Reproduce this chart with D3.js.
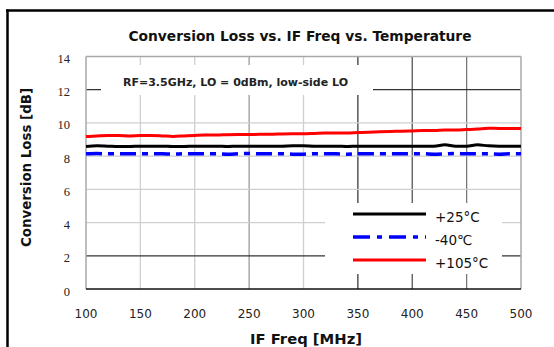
<!DOCTYPE html>
<html><head><meta charset="utf-8">
<script src="https://cdn.jsdelivr.net/npm/d3@7"></script>
<style>body{margin:0;background:#fff}svg{display:block}</style>
</head><body><svg id="c" width="554" height="347"></svg>
<script>
const freqs = [100,110,120,130,140,150,160,170,180,190,200,210,220,230,240,250,260,270,280,290,300,310,320,330,340,350,360,370,380,390,400,410,420,430,440,450,460,470,480,490,500];
const loss25 = [8.58,8.62,8.6,8.58,8.58,8.6,8.6,8.6,8.58,8.58,8.6,8.6,8.6,8.58,8.6,8.6,8.6,8.6,8.6,8.62,8.62,8.6,8.6,8.6,8.58,8.6,8.6,8.6,8.6,8.6,8.6,8.6,8.6,8.68,8.6,8.6,8.68,8.62,8.6,8.6,8.6];
const lossM40 = [8.14,8.16,8.14,8.14,8.14,8.14,8.14,8.14,8.12,8.14,8.14,8.14,8.14,8.12,8.14,8.16,8.14,8.14,8.14,8.12,8.12,8.14,8.14,8.14,8.12,8.14,8.14,8.14,8.14,8.14,8.14,8.14,8.12,8.14,8.16,8.14,8.14,8.14,8.12,8.14,8.14];
const loss105 = [9.18,9.22,9.24,9.24,9.22,9.24,9.24,9.22,9.19,9.22,9.25,9.27,9.27,9.29,9.3,9.3,9.32,9.32,9.34,9.35,9.35,9.37,9.39,9.4,9.4,9.42,9.44,9.47,9.49,9.5,9.52,9.54,9.54,9.57,9.57,9.6,9.63,9.68,9.67,9.67,9.67];
const xTicks = [100,150,200,250,300,350,400,450,500];
const yTicks = [0,2,4,6,8,10,12,14];
const seriesNames = ["+25°C","-40℃","+105°C"];
const titleText = "Conversion Loss vs. IF Freq vs. Temperature";
const xLabel = "IF Freq [MHz]";
const yLabel = "Conversion Loss [dB]";
const noteText = "RF=3.5GHz,  LO  =  0dBm,  low-side LO";

const svg = d3.select("#c");
const L=86,R=521,T=56.5,B=289;
const x = d3.scaleLinear().domain([100,500]).range([L,R]);
const y = d3.scaleLinear().domain([0,14]).range([B,T]);

// outer frame
svg.append("line").attr("x1",7.5).attr("x2",7.5).attr("y1",9.5).attr("y2",347).attr("stroke","#000").attr("stroke-width",2.5);
svg.append("line").attr("x1",6).attr("x2",554).attr("y1",10.5).attr("y2",10.5).attr("stroke","#000").attr("stroke-width",2.5);

svg.append("rect").attr("x",L).attr("y",T).attr("width",R-L).attr("height",B-T).attr("fill","#fff");

const vCol = {150:"#cfcfcf",200:"#cfcfcf",250:"#9a9a9a",300:"#cfcfcf",350:"#3a3a3a",400:"#555",450:"#777"};
const hCol = {2:"#333",4:"#cfcfcf",6:"#cfcfcf",8:"#cfcfcf",10:"#cfcfcf",12:"#333"};
const g = svg.append("g");
g.selectAll(".vg").data(xTicks.filter(d=>d>100&&d<500)).join("line")
 .attr("x1",d=>x(d)).attr("x2",d=>x(d)).attr("y1",T).attr("y2",B)
 .attr("stroke",d=>vCol[d]).attr("stroke-width",1.3);
g.selectAll(".hg").data(yTicks.filter(d=>d>0&&d<14)).join("line")
 .attr("x1",L).attr("x2",R).attr("y1",d=>y(d)).attr("y2",d=>y(d))
 .attr("stroke",d=>hCol[d]).attr("stroke-width",1.3);
// frame of plot
svg.append("line").attr("x1",L).attr("x2",R).attr("y1",T).attr("y2",T).attr("stroke","#a8a8a8").attr("stroke-width",1.5);
svg.append("line").attr("x1",L).attr("x2",L).attr("y1",T).attr("y2",B).attr("stroke","#a8a8a8").attr("stroke-width",1.5);
svg.append("line").attr("x1",R).attr("x2",R).attr("y1",T).attr("y2",B).attr("stroke","#a8a8a8").attr("stroke-width",1.5);
svg.append("line").attr("x1",L).attr("x2",R).attr("y1",B).attr("y2",B).attr("stroke","#111").attr("stroke-width",1.5);

// note box
svg.append("rect").attr("x",101).attr("y",65).attr("width",272).attr("height",30).attr("fill","#fff");
svg.append("text").attr("x",123).attr("y",85.5).attr("font-family","DejaVu Sans").attr("font-weight","bold")
 .attr("font-size",10).attr("fill","#222").attr("textLength",225).attr("lengthAdjust","spacingAndGlyphs").text(noteText);

// legend box
svg.append("rect").attr("x",325).attr("y",203).attr("width",177).attr("height",71).attr("fill","#fff");

const line = d3.line().x((d,i)=>x(freqs[i])).y(d=>y(d)).curve(d3.curveMonotoneX);
const series = [
 {name:seriesNames[0], vals:loss25, color:"#000", w:3, dash:null},
 {name:seriesNames[1], vals:lossM40, color:"#0000ff", w:3.5, dash:"16,6,6,6"},
 {name:seriesNames[2], vals:loss105, color:"#ff0000", w:3, dash:null}
];
series.forEach((s,i)=>{
  svg.append("path").attr("d",line(s.vals)).attr("fill","none").attr("stroke",s.color)
   .attr("stroke-width",s.w).attr("stroke-dasharray",s.dash);
  const ly = 214 + i*23;
  svg.append("line").attr("x1",353).attr("x2",426).attr("y1",ly).attr("y2",ly)
   .attr("stroke",s.color).attr("stroke-width",s.w).attr("stroke-dasharray",s.dash==null?null:"17,7,5,7");
  svg.append("text").attr("x",435).attr("y",ly+7.5).attr("font-family","DejaVu Sans")
   .attr("font-size",13.5).attr("fill","#111").text(s.name);
});

// axes labels
svg.selectAll(".xt").data(xTicks).join("text").attr("x",d=>x(d)).attr("y",318)
 .attr("text-anchor","middle").attr("font-family","DejaVu Sans").attr("font-size",12).attr("fill","#222").text(d=>d);
svg.selectAll(".yt").data(yTicks).join("text").attr("x",70).attr("y",d=>y(d)+6.5)
 .attr("text-anchor","end").attr("font-family","Liberation Serif").attr("font-size",12.5).attr("fill","#222").text(d=>d);

svg.append("text").attr("x",300).attr("y",41).attr("text-anchor","middle").attr("font-family","DejaVu Sans")
 .attr("font-weight","bold").attr("font-size",13.5).attr("fill","#111").attr("textLength",343).attr("lengthAdjust","spacingAndGlyphs").text(titleText);
svg.append("text").attr("x",306).attr("y",344).attr("text-anchor","middle").attr("font-family","DejaVu Sans")
 .attr("font-weight","bold").attr("font-size",13.5).attr("fill","#111").attr("textLength",112).attr("lengthAdjust","spacingAndGlyphs").text(xLabel);
svg.append("text").attr("transform","translate(31,167.5) rotate(-90)").attr("text-anchor","middle").attr("font-family","DejaVu Sans")
 .attr("font-weight","bold").attr("font-size",13.5).attr("fill","#111").attr("textLength",159).attr("lengthAdjust","spacingAndGlyphs").text(yLabel);
</script></body></html>
